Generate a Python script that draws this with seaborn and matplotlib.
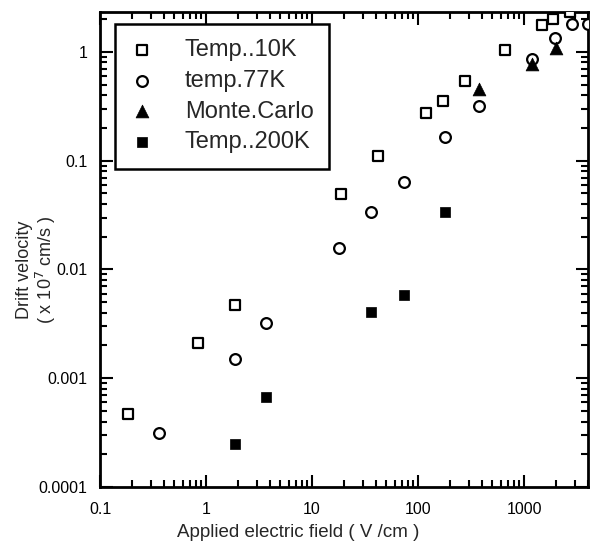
import matplotlib
matplotlib.use("Agg")
import matplotlib.pyplot as plt
import seaborn as sns
import pandas as pd
from matplotlib.ticker import LogLocator, FixedLocator, FixedFormatter, NullFormatter

sns.set_style("ticks")
plt.rcParams['font.family'] = ['Liberation Sans', 'DejaVu Sans']

# ---- data ----
t10k_x = [0.184, 0.84, 1.88, 18.7, 42, 119, 172, 275, 660, 1480, 1880, 2700]
t10k_y = [0.00047, 0.00211, 0.00472, 0.0496, 0.111, 0.275, 0.356, 0.54, 1.05, 1.78, 2.02, 2.34]

t77k_x = [0.36, 1.88, 3.68, 18, 36, 74, 180, 376, 1190, 1950, 2800, 4000]
t77k_y = [0.000314, 0.00151, 0.00324, 0.0158, 0.034, 0.064, 0.166, 0.32, 0.86, 1.35, 1.8, 1.8]

mc_x = [376, 1190, 2000]
mc_y = [0.46, 0.78, 1.09]

t200k_x = [1.87, 3.68, 36, 74, 180]
t200k_y = [0.00025, 0.00067, 0.0041, 0.00583, 0.034]

labels = ["Temp..10K", "temp.77K", "Monte.Carlo", "Temp..200K"]
xticks = [0.1, 1, 10, 100, 1000]
xtick_labels = ["0.1", "1", "10", "100", "1000"]
yticks = [0.0001, 0.001, 0.01, 0.1, 1]
ytick_labels = ["0.0001", "0.001", "0.01", "0.1", "1"]

fig = plt.figure(figsize=(5.97, 5.47), dpi=100)
ax = fig.add_axes([100/597, 60/547, 488/597, 475/547])

sns.scatterplot(x=t10k_x, y=t10k_y, ax=ax, marker='s', s=42, facecolor='white',
                edgecolor='black', linewidth=1.6, label=labels[0], zorder=3)
sns.scatterplot(x=t77k_x, y=t77k_y, ax=ax, marker='o', s=60, facecolor='white',
                edgecolor='black', linewidth=1.6, label=labels[1], zorder=3)
sns.scatterplot(x=mc_x, y=mc_y, ax=ax, marker='^', s=85, color='black',
                edgecolor='black', linewidth=0.5, label=labels[2], zorder=4)
sns.scatterplot(x=t200k_x, y=t200k_y, ax=ax, marker='s', s=50, color='black',
                edgecolor='black', linewidth=0.5, label=labels[3], zorder=4)

ax.set_xscale('log')
ax.set_yscale('log')
ax.set_xlim(0.1, 4000)
ax.set_ylim(0.0001, 2.33)

ax.xaxis.set_major_locator(FixedLocator(xticks))
ax.xaxis.set_major_formatter(FixedFormatter(xtick_labels))
ax.yaxis.set_major_locator(FixedLocator(yticks))
ax.yaxis.set_major_formatter(FixedFormatter(ytick_labels))
ax.xaxis.set_minor_locator(LogLocator(base=10, subs=range(2, 10), numticks=20))
ax.yaxis.set_minor_locator(LogLocator(base=10, subs=range(2, 10), numticks=20))
ax.xaxis.set_minor_formatter(NullFormatter())
ax.yaxis.set_minor_formatter(NullFormatter())

ax.tick_params(which='both', direction='in', top=True, right=True, width=1.5, colors='black')
ax.tick_params(which='major', length=9, labelsize=11.5)
ax.tick_params(axis='x', which='major', pad=11)
ax.tick_params(axis='y', which='major', pad=9)
ax.tick_params(which='minor', length=5)
for sp in ax.spines.values():
    sp.set_linewidth(2)
    sp.set_color('black')

ax.set_xlabel("Applied electric field ( V /cm )", fontsize=13.5)
ax.xaxis.set_label_coords((298.5 - 100) / 488, -0.077)
ax.set_ylabel("Drift velocity\n( x 10$^{7}$ cm/s )", fontsize=13, linespacing=1.0)
ax.yaxis.set_label_coords(-0.087, 0.457)

leg = ax.legend(loc='upper left', bbox_to_anchor=(0.031, 0.975), borderaxespad=0,
                fontsize=17, frameon=True, fancybox=False, edgecolor='black',
                framealpha=1, handlelength=1.0, handletextpad=1.3, borderpad=0.65,
                labelspacing=0.37)
leg.get_frame().set_linewidth(1.8)

fig.savefig("out.png", dpi=100)
